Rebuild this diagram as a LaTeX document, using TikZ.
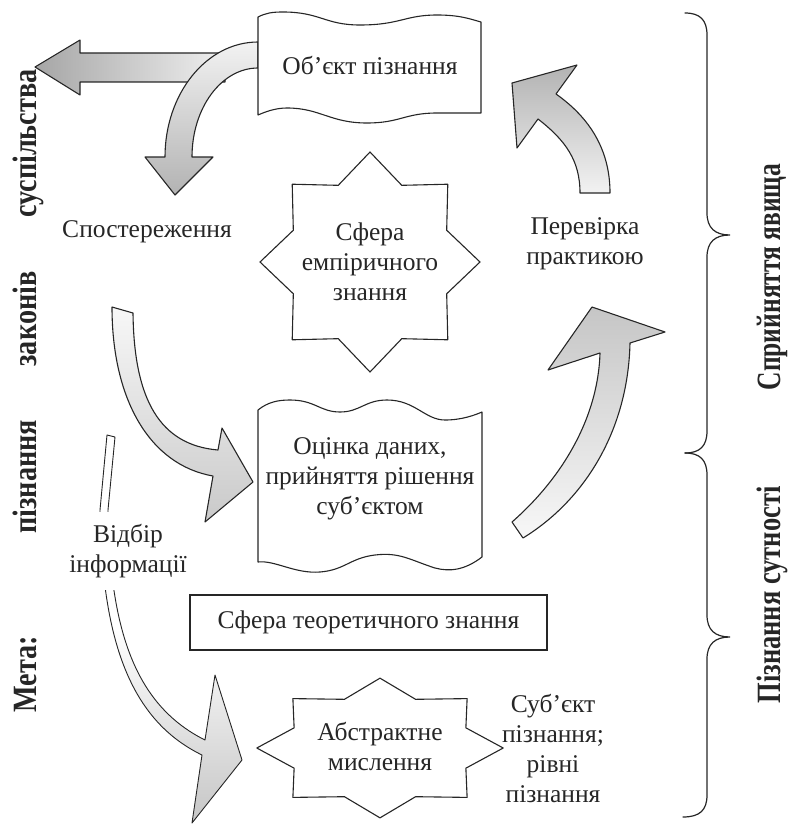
\documentclass[tikz,border=0pt]{standalone}
\usepackage{fontspec}
\setmainfont{Liberation Serif}
\begin{document}
\begin{tikzpicture}[x=1pt,y=-1pt,
  lbl/.style={font=\fontsize{25.5}{30}\selectfont, align=center, inner sep=0pt, text=black!85},
  sidelbl/.style={font=\fontsize{34}{38}\selectfont\bfseries, rotate=90, inner sep=0pt, text=black!85},
  outline/.style={draw=black!85, line width=1.1pt, line join=round},
  panel/.style={outline, fill=white},
  bracepen/.style={draw=black!85, line width=1.2pt, line cap=round}
]
\useasboundingbox (0,0) rectangle (797,824);

% eight-pointed star outline: centre, horizontal and vertical stretch
\newcommand\eightstar[3]{%
  \draw[panel, shift={#1}, xscale=#2, yscale=#3]
    (90:110) \foreach \k in {0,...,7}{ -- ({112.5+\k*45}:83) -- ({135+\k*45}:110)} -- cycle;}

% ---------- block arrows ----------
% straight arrow to the left
\shadedraw[outline, left color=gray!70, right color=gray!12]
  (35,67) -- (80,40) -- (80,53) -- (225,53) -- (225,82) -- (80,82) -- (80,95) -- cycle;

% curved arrow from the object down to observation
\shadedraw[outline, top color=gray!10, bottom color=gray!60]
  (258,42) .. controls (206.6,42) and (165,93.5) .. (165,157)
  -- (145,157) -- (175,195) -- (213,157) -- (192,157)
  .. controls (192,107.8) and (221.5,68) .. (258,68) -- cycle;

% curved arrow up to the object (verification)
\shadedraw[outline, top color=gray!60, bottom color=gray!10]
  (580,193) -- (610,193) .. controls (610,150) and (590,118) .. (556,94)
  -- (577,65) -- (512,83) -- (517,148) -- (538,119)
  .. controls (565,140) and (580,160) .. (580,193) -- cycle;

% big curved arrow from observation to evaluation
\shadedraw[outline, top color=gray!6, bottom color=gray!42]
  (112,307) -- (133,313) .. controls (134,400) and (160,445) .. (218,450)
  -- (222,428) -- (253,482) -- (205,522) -- (213,476)
  .. controls (150,465) and (112,400) .. (112,307) -- cycle;

% big curved arrow from evaluation up to verification
\shadedraw[outline, top color=gray!45, bottom color=gray!6]
  (512,522) .. controls (560,480) and (598,420) .. (600,353)
  -- (548,370) -- (592,307) -- (665,332) -- (630,343)
  .. controls (628,430) and (585,500) .. (523,538) -- cycle;

% thin arrow: selection of information
\shadedraw[outline, line width=0.9pt, top color=white, bottom color=gray!45, middle color=white]
  (107,435) -- (115,437) -- (108,510) .. controls (110,630) and (135,705) .. (205,740)
  -- (215,675) -- (242,760) -- (192,823) -- (202,755)
  .. controls (130,720) and (102,640) .. (100,510) -- cycle;

% ---------- shapes ----------
% object of cognition (wavy banner)
\draw[panel]
  (258,17) .. controls (266,13) and (272,12) .. (283,12)
  .. controls (320,12) and (325,25) .. (360,25)
  .. controls (400,25) and (405,15) .. (437,15)
  .. controls (460,15) and (470,19) .. (481,22)
  -- (481,113)
  .. controls (470,113) and (460,113) .. (437,113)
  .. controls (405,113) and (400,123) .. (367,123)
  .. controls (330,123) and (320,108) .. (287,108)
  .. controls (275,108) and (265,112) .. (258,115) -- cycle;

% evaluation banner
\draw[panel]
  (258,410) .. controls (268,402) and (278,400) .. (290,400)
  .. controls (315,400) and (320,412) .. (340,412)
  .. controls (360,412) and (365,400) .. (387,400)
  .. controls (415,400) and (425,420) .. (445,420)
  .. controls (462,420) and (475,415) .. (482,412)
  -- (482,557)
  .. controls (465,570) and (450,572) .. (435,568)
  .. controls (410,560) and (400,552) .. (375,555)
  .. controls (350,558) and (345,570) .. (320,572)
  .. controls (295,574) and (275,560) .. (258,562) -- cycle;

\eightstar{(370,262)}{1}{1}
\eightstar{(380,748)}{1.12}{0.635}

% ---------- texts ----------
\node[lbl] (obj) at (370,65) {Об’єкт пізнання};
\node[lbl] (emp) at (370,262) {Сфера\\емпіричного\\знання};
\node[lbl] (obs) at (147,232) {Спостереження};
\node[lbl] (ver) at (585,244) {Перевірка\\практикою};
\node[lbl] (eval) at (370,479) {Оцінка даних,\\прийняття рішення\\суб’єктом};
\node[lbl, draw=black!85, line width=1.1pt, minimum width=357pt, minimum height=55pt]
  (theo) at (368.5,622.5) {Сфера теоретичного знання};
\node[lbl] (abs) at (380,746) {Абстрактне\\мислення};
\node[lbl] (subj) at (553,748) {Суб’єкт\\пізнання;\\рівні\\пізнання};
\node[lbl, fill=white, inner xsep=2pt, inner ysep=12pt] (sel) at (128,551) {Відбір\\інформації};

\node[sidelbl] (goal) at (28,391)
  {\scalebox{0.83}[1]{\makebox[775pt][s]{Мета: пізнання законів суспільства}}};
\node[sidelbl] (perc) at (772,277) {\scalebox{0.75}[1]{Сприйняття явища}};
\node[sidelbl] (ess) at (772,595) {\scalebox{0.78}[1]{Пізнання сутності}};

% ---------- braces ----------
\draw[bracepen]
  (685,13) .. controls (700,13) and (707,20) .. (707,35) -- (707,213)
  .. controls (707,228) and (715,235) .. (730,235)
  .. controls (715,235) and (707,242) .. (707,257) -- (707,431)
  .. controls (707,446) and (700,453) .. (685,453);
\draw[bracepen]
  (685,453) .. controls (700,453) and (707,460) .. (707,475) -- (707,615)
  .. controls (707,630) and (715,637) .. (730,637)
  .. controls (715,637) and (707,644) .. (707,659) -- (707,795)
  .. controls (707,810) and (700,817) .. (683,817);
\end{tikzpicture}
\end{document}
